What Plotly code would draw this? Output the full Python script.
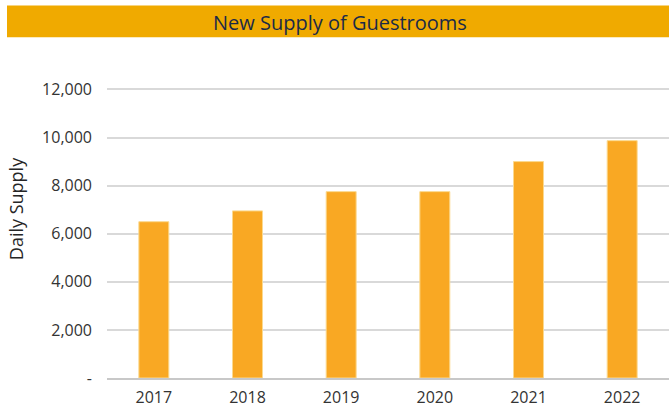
import plotly.graph_objects as go

years = ['2017', '2018', '2019', '2020', '2021', '2022']
daily_supply = [6500, 6950, 7750, 7750, 9000, 9870]

tick_vals = [0, 2000, 4000, 6000, 8000, 10000, 12000]
tick_text = ['-', '2,000', '4,000', '6,000', '8,000', '10,000', '12,000']

W, H = 669, 408
L, R, T, B = 107, 0, 88, 28
pw, ph = W - L - R, H - T - B


def px_x(x):
    return (x - L) / pw


def px_y(y):
    return 1 + (T - y) / ph


fig = go.Figure()
fig.add_trace(go.Bar(
    x=years, y=daily_supply,
    marker=dict(color='#F9A823', line=dict(color='#FBD98F', width=1)),
    width=0.32,
))

# orange title band
fig.add_shape(type='rect', xref='paper', yref='paper',
              x0=px_x(7), x1=px_x(669), y0=px_y(37), y1=px_y(5),
              fillcolor='#F0AA00', line_width=0, layer='below')

fig.add_annotation(text='New Supply of Guestrooms', xref='paper', yref='paper',
                   x=px_x(340), y=px_y(22), xanchor='center', yanchor='middle',
                   showarrow=False, font=dict(size=20, color='#1B2A48'))

fig.add_annotation(text='Daily Supply', xref='paper', yref='paper',
                   x=px_x(16), y=px_y(210), xanchor='center', yanchor='middle',
                   textangle=-90, showarrow=False, font=dict(size=18, color='#262626'))

fig.update_layout(
    width=W, height=H,
    margin=dict(l=L, r=R, t=T, b=B),
    paper_bgcolor='white', plot_bgcolor='white',
    font=dict(family='Open Sans', size=16, color='#333333'),
    showlegend=False,
)
fig.update_xaxes(showline=True, linecolor='#C8C8C8', linewidth=2,
                 ticks='', ticklabelstandoff=4, tickfont=dict(size=16, color='#333333'))
fig.update_yaxes(range=[0, 12060], tickvals=tick_vals, ticktext=tick_text,
                 showgrid=True, gridcolor='#D9D9D9', gridwidth=1.5,
                 zeroline=False, ticks='', ticklabelstandoff=14,
                 tickfont=dict(size=16, color='#333333'))

fig.write_html('out.html', config={'displayModeBar': False},
               post_script="document.body.style.margin='0';")
